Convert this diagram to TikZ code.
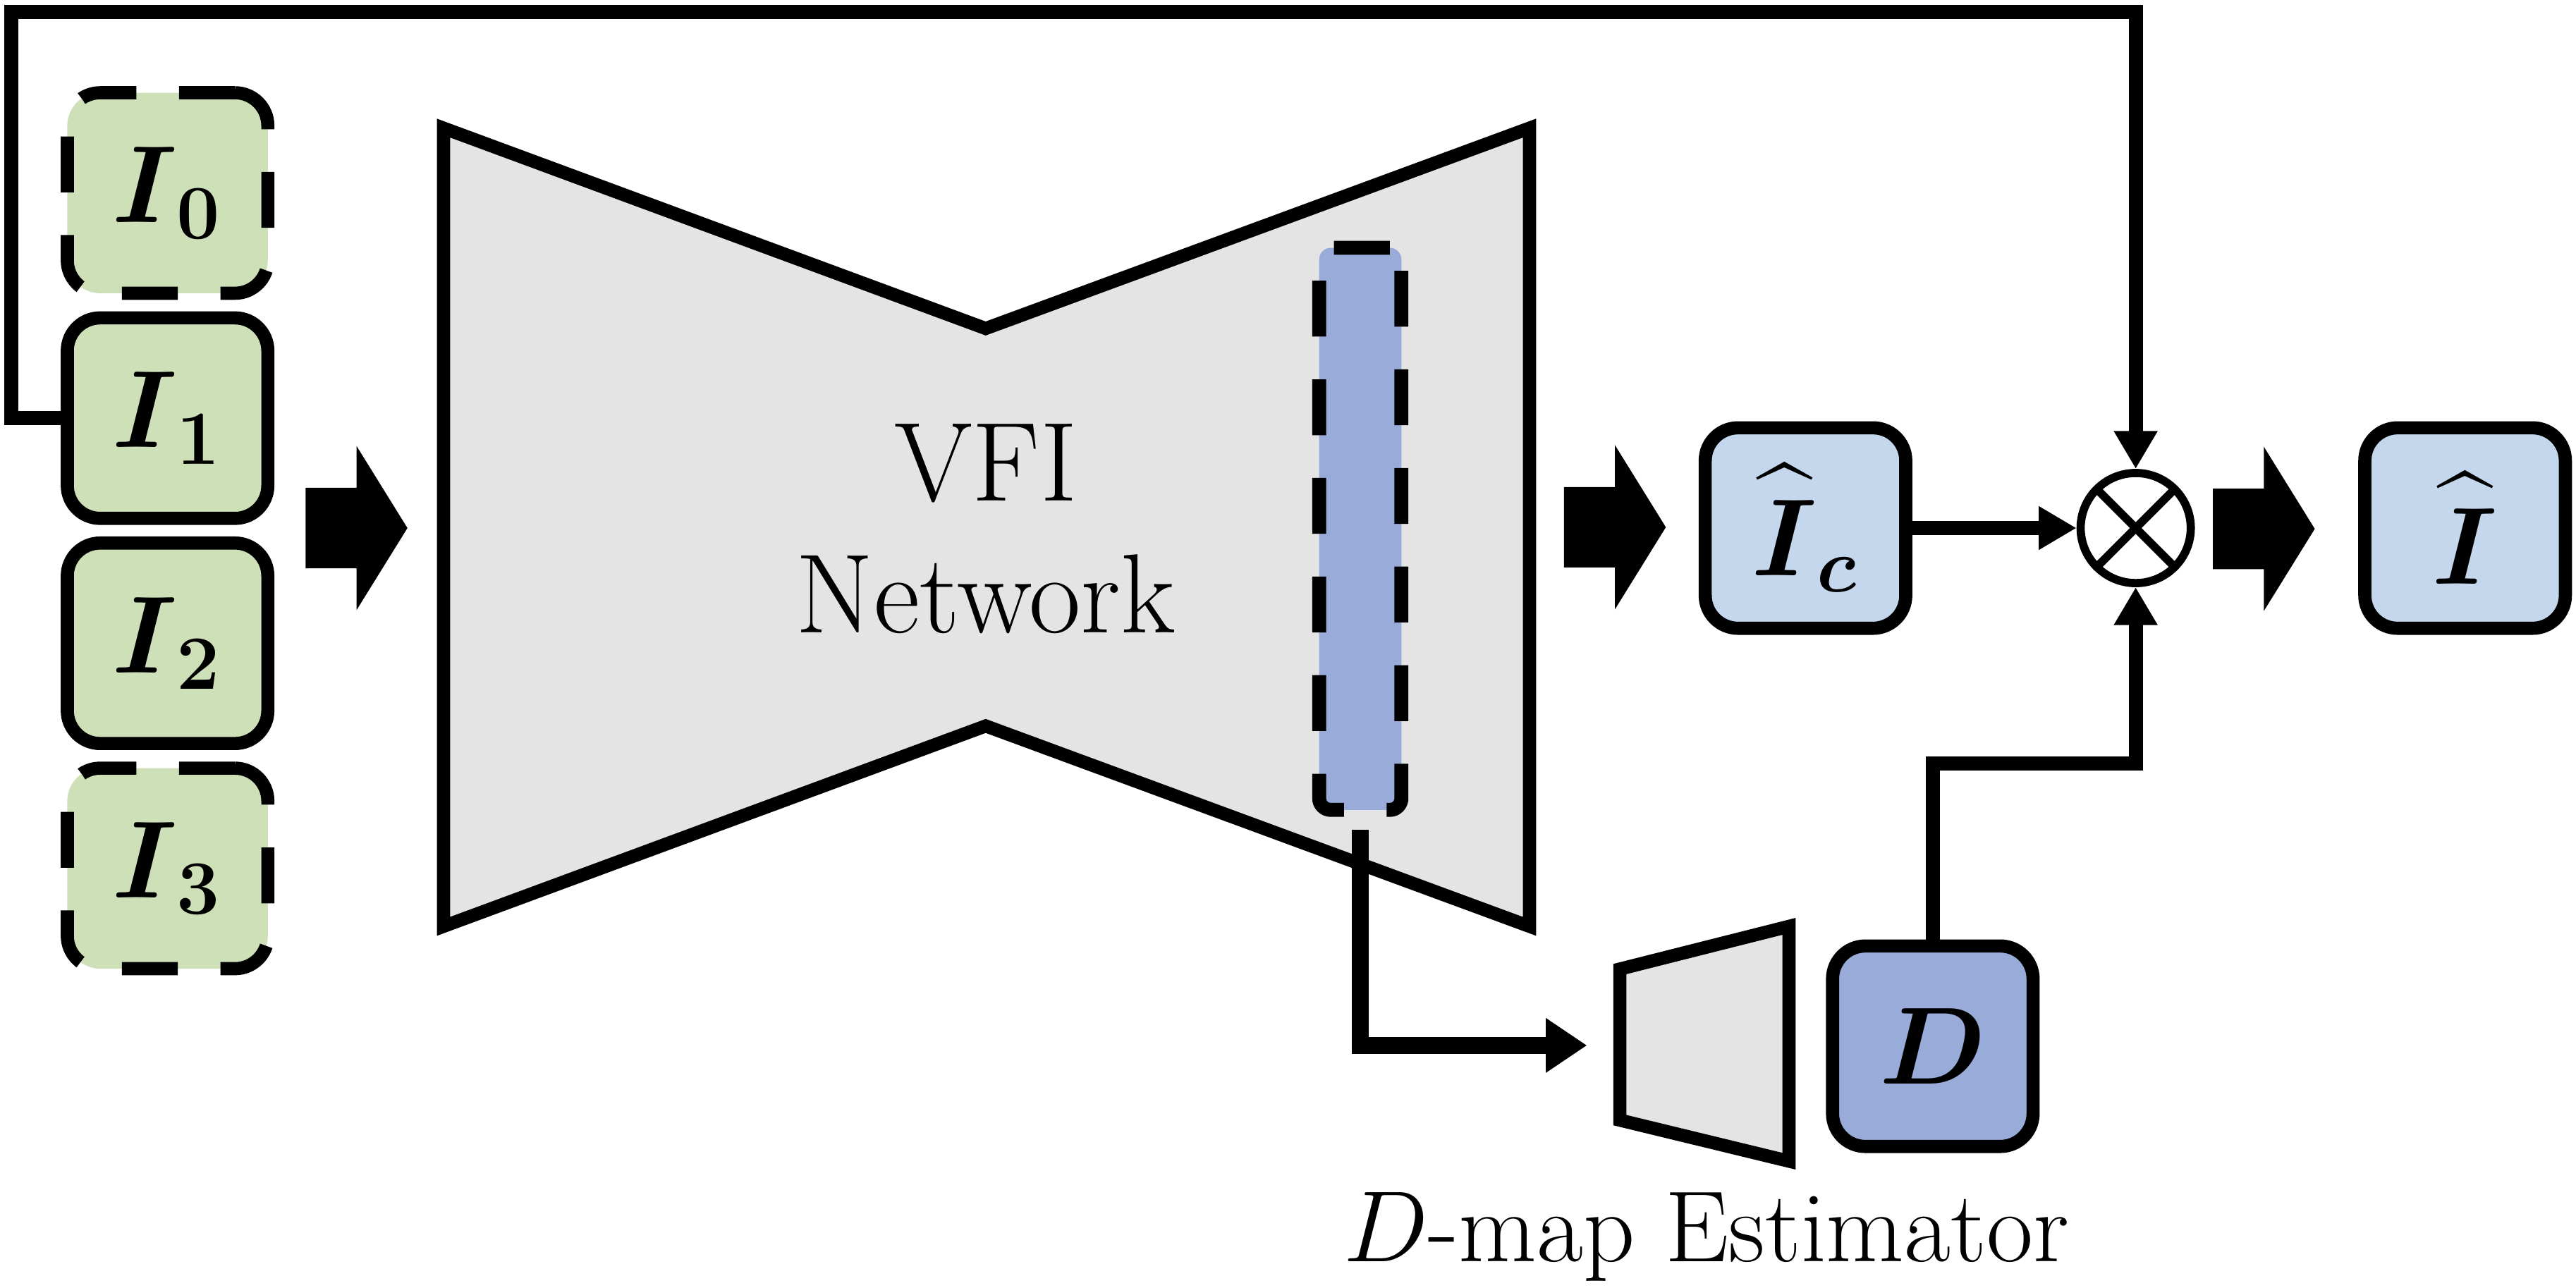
\RequirePackage{fix-cm}
\documentclass[tikz,border=0pt]{standalone}
\usepackage{amsmath}
\usetikzlibrary{arrows.meta,positioning}
\definecolor{framegreen}{RGB}{206,224,184}
\definecolor{frameblue}{RGB}{197,215,236}
\definecolor{mapblue}{RGB}{152,171,217}
\definecolor{netgray}{RGB}{228,228,228}
\tikzset
{
	imgnode/.style = {rectangle, rounded corners=0.2cm, draw=black, line width=0.08cm, minimum width=1.22cm, minimum height=1.22cm, align=center, font=\fontsize{19}{23}\selectfont},
	inputnode/.style = {imgnode, fill=framegreen},
	ctxnode/.style = {inputnode, dash pattern=on 0.34cm off 0.26cm},
	outnode/.style = {imgnode, fill=frameblue},
	mapnode/.style = {imgnode, fill=mapblue},
	featnode/.style = {rectangle, rounded corners=0.07cm, draw=black, line width=0.085cm, dash pattern=on 0.34cm off 0.26cm, fill=mapblue, minimum width=0.5cm, minimum height=3.42cm},
	opnode/.style = {circle, draw=black, line width=0.05cm, fill=white, minimum size=0.67cm, inner sep=0pt,
		path picture={\draw[line width=0.05cm] (path picture bounding box.north west) -- (path picture bounding box.south east) (path picture bounding box.north east) -- (path picture bounding box.south west);}},
	netbody/.style = {draw=black, fill=netgray, line width=0.08cm},
	link/.style = {draw=black, line width=0.085cm, -{Triangle[length=0.23cm, width=0.25cm]}},
	biglink/.style = {link, line width=0.105cm, -{Triangle[length=0.25cm, width=0.315cm]}},
	bigarrow/.pic = {\fill (0,-24.5) -- (31,-24.5) -- (31,-50) -- (62,0) -- (31,50) -- (31,24.5) -- (0,24.5) -- cycle;}
}

\begin{document}
\begin{tikzpicture}[x=0.01cm, y=-0.01cm]
\useasboundingbox (0,0) rectangle (1568,784);
% networks
\draw[netbody] (270,78) -- (600,200) -- (931,78) -- (931,564) -- (600,442) -- (270,564) -- cycle;
\draw[netbody] (986,590) -- (1089,564) -- (1089,707) -- (986,682) -- cycle;
\node[align=center, font=\fontsize{19.5}{22.8}\selectfont] (vfi) at (600,322) {VFI\\Network};
\node[featnode] (feat) at (828,322) {};
% input frames
\node[ctxnode] (I0) at (102,117.5) {$\boldsymbol{I}_{\mathbf{0}}$};
\node[inputnode, below=0.07cm of I0] (I1) {$\boldsymbol{I}_{\mathbf{1}}$};
\node[inputnode, below=0.07cm of I1] (I2) {$\boldsymbol{I}_{\mathbf{2}}$};
\node[ctxnode, below=0.07cm of I2] (I3) {$\boldsymbol{I}_{\mathbf{3}}$};
% outputs
\node[outnode] (Ic) at (1099,321.5) {$\widehat{\boldsymbol{I}\rule{0pt}{0.75em}}_{\boldsymbol{c}}$};
\node[opnode] (op) at (1300,321.5) {};
\node[outnode] (Ihat) at (1500.5,321.5) {$\widehat{\boldsymbol{I}\rule{0pt}{0.75em}}$};
\node[mapnode] (D) at (1176.5,637) {$\boldsymbol{D}$};
\node[anchor=base, font=\fontsize{17.5}{21}\selectfont] (dlabel) at (1038.5,768) {$D$-map Estimator};
% block arrows
\pic at (186,321.5) {bigarrow};
\pic at (952,321) {bigarrow};
\pic at (1347,322) {bigarrow};
% connectors
\coordinate (topleft) at (7,7.4);
\coordinate (estin) at (966,636.5);
\coordinate (mapturn) at (1300,465);
\draw[link] (I1.west) -| (topleft) -| (op.north);
\draw[link] (Ic.east) -- (op.west);
\draw[link] (D.north) |- (mapturn) -- (op.south);
\draw[biglink] ([yshift=-0.08cm]feat.south) |- (estin);
\end{tikzpicture}
\end{document}
